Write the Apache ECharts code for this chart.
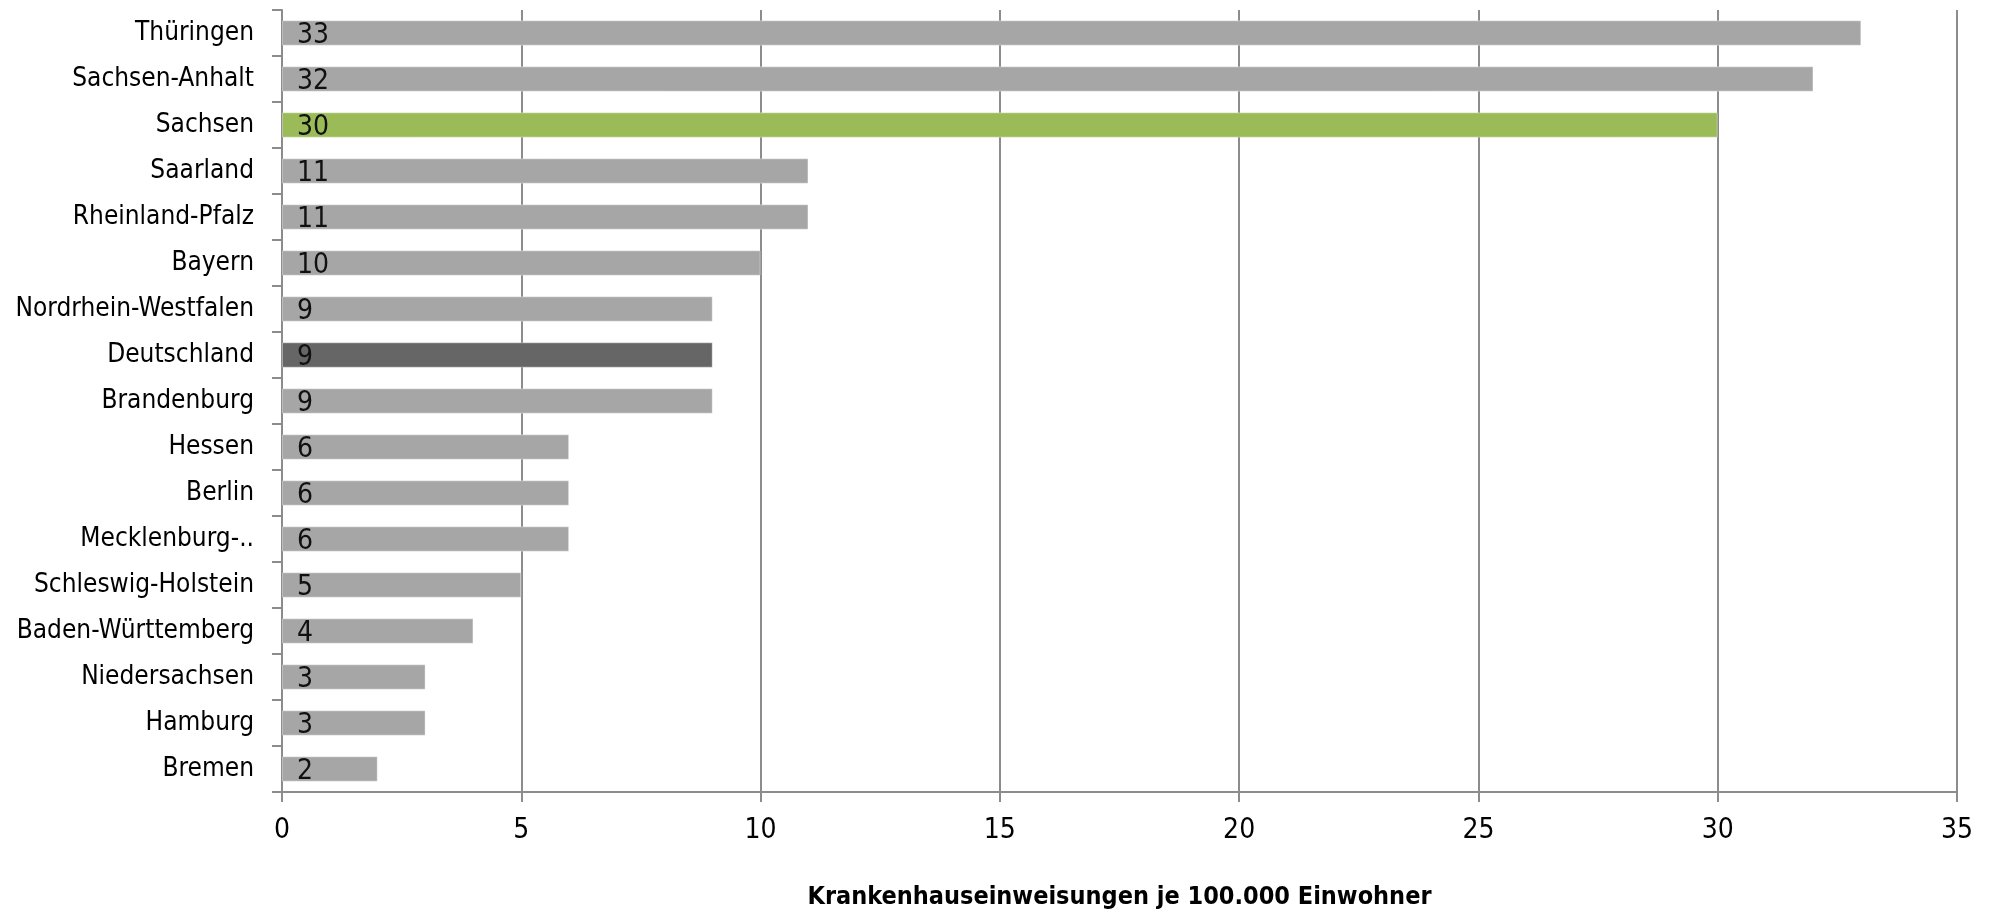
<!DOCTYPE html>
<html>
<head>
<meta charset="utf-8">
<script src="https://cdn.jsdelivr.net/npm/echarts@6/dist/echarts.min.js"></script>
<style>
  html, body { margin: 0; padding: 0; background: #ffffff; }
  #chart { width: 1990px; height: 914px; }
</style>
</head>
<body>
<div id="chart"></div>
<script>
// Bundesländer, sorted from highest to lowest rate
const categories = [
  'Thüringen', 'Sachsen-Anhalt', 'Sachsen', 'Saarland', 'Rheinland-Pfalz',
  'Bayern', 'Nordrhein-Westfalen', 'Deutschland', 'Brandenburg', 'Hessen',
  'Berlin', 'Mecklenburg-Vorpommern', 'Schleswig-Holstein', 'Baden-Württemberg',
  'Niedersachsen', 'Hamburg', 'Bremen'
];
// Krankenhauseinweisungen je 100.000 Einwohner
const values = [33, 32, 30, 11, 11, 10, 9, 9, 9, 6, 6, 6, 5, 4, 3, 3, 2];
const xTicks = [0, 5, 10, 15, 20, 25, 30, 35];

const highlight = { 'Sachsen': '#9bbb59', 'Deutschland': '#666666' };
const baseColor = '#a6a6a6';

// Pick a narrow face: a real narrow family if installed, otherwise a condensed stretch.
const probe = document.createElement('canvas').getContext('2d');
function widthOf(font, text) { probe.font = font; return probe.measureText(text).width; }
const sample = 'Nordrhein-Westfalen';
let family = '"Liberation Sans"';
let stretch = '';
const fallbackW = widthOf('100px monospace', sample);
if (Math.abs(widthOf('100px "Liberation Sans Narrow", monospace', sample) - fallbackW) > 1) {
  family = '"Liberation Sans Narrow"';
} else if (widthOf('condensed 100px "DejaVu Sans"', sample) < widthOf('100px "DejaVu Sans"', sample) - 1) {
  family = '"DejaVu Sans"';
  stretch = 'condensed';
}
// size the state names so the longest one spans about 240px
const unitW = widthOf((stretch ? stretch + ' ' : '') + '100px ' + family, sample) / 100;
const labelSize = Math.round(Math.min(32, 240 / unitW));
const numberSize = 28;
const styleKey = stretch || 'normal';

const chart = echarts.init(document.getElementById('chart'), null, { renderer: 'canvas' });

chart.setOption({
  animation: false,
  backgroundColor: '#ffffff',
  grid: { left: 282, right: 33, top: 10, bottom: 122, outerBoundsMode: 'none', containLabel: false },
  xAxis: {
    type: 'value',
    min: xTicks[0],
    max: xTicks[xTicks.length - 1],
    interval: 5,
    name: 'Krankenhauseinweisungen je 100.000 Einwohner',
    nameLocation: 'middle',
    nameGap: 93,
    nameTextStyle: { fontFamily: family, fontStyle: styleKey, fontSize: labelSize - 1, fontWeight: 'bold', color: '#000' },
    axisLine: { show: true, lineStyle: { color: '#8c8c8c', width: 2 } },
    axisTick: { show: true, length: 10, lineStyle: { color: '#8c8c8c', width: 2 } },
    axisLabel: { fontFamily: family, fontStyle: styleKey, fontSize: numberSize, color: '#000', margin: 25 },
    splitLine: { show: true, lineStyle: { color: '#8c8c8c', width: 2 } }
  },
  yAxis: {
    type: 'category',
    data: categories,
    inverse: true,
    axisLine: { show: true, lineStyle: { color: '#8c8c8c', width: 2 } },
    axisTick: { show: true, length: 10, lineStyle: { color: '#8c8c8c', width: 2 } },
    axisLabel: {
      fontFamily: family, fontStyle: styleKey, fontSize: labelSize, color: '#000', margin: 28,
      formatter: (v) => v.length > 20 ? v.slice(0, 12) + '..' : v
    },
    splitLine: { show: false }
  },
  series: [{
    type: 'bar',
    barCategoryGap: '45%',
    data: values.map((v, i) => ({
      value: v,
      itemStyle: { color: highlight[categories[i]] || baseColor }
    })),
    itemStyle: { borderColor: 'rgba(255,255,255,0.35)', borderWidth: 1 },
    label: {
      show: true,
      position: 'insideLeft',
      distance: 15,
      offset: [0, 3],
      fontFamily: family,
      fontStyle: styleKey,
      fontSize: numberSize,
      color: '#111'
    }
  }]
});
</script>
</body>
</html>
